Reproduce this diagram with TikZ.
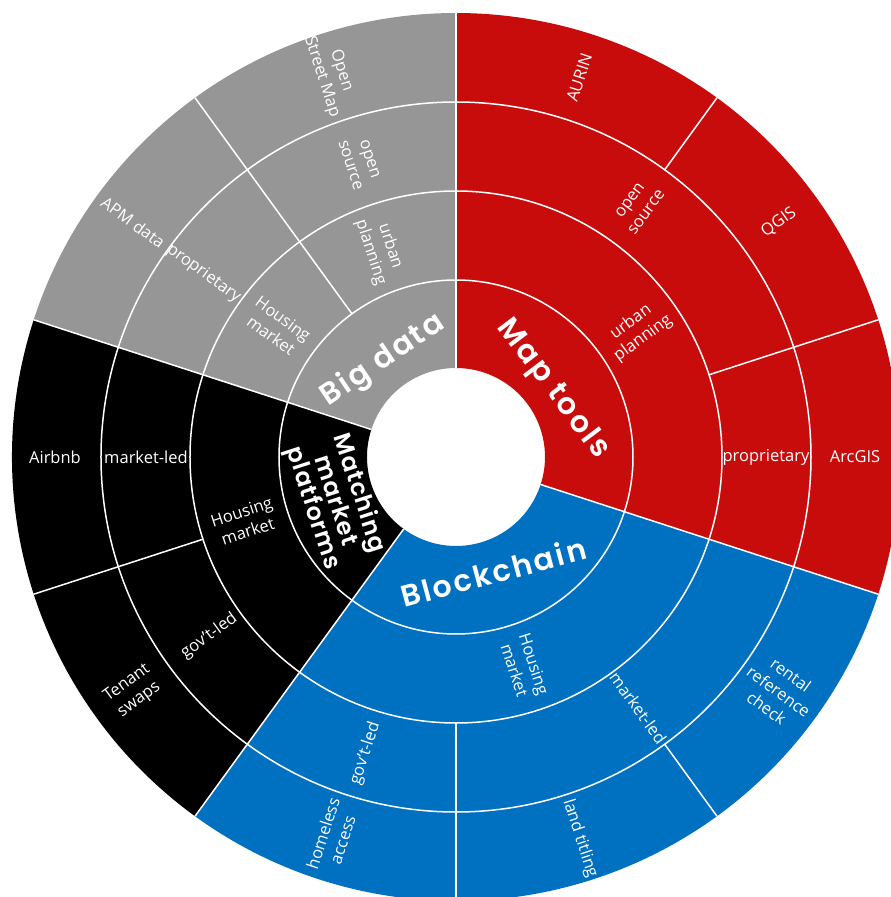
\documentclass[tikz,border=0pt]{standalone}
\usepackage{fontspec}
\setmainfont{Open Sans}
\newfontfamily\catfont{Poppins SemiBold}[LetterSpace=8]
\newfontfamily\catfontb{Poppins SemiBold}[LetterSpace=4]
\definecolor{mred}{RGB}{200,12,12}
\definecolor{mblue}{RGB}{0,112,192}
\definecolor{mgray}{RGB}{150,150,150}
\begin{document}
\begin{tikzpicture}[x=1pt,y=1pt,
  lab/.style={text=white,font=\fontsize{16.5}{20.5}\selectfont,align=center,inner sep=0pt},
  cat/.style={text=white,font=\catfont\fontsize{30}{30}\selectfont,align=center,inner sep=0pt},
  catsmall/.style={text=white,font=\catfontb\fontsize{24}{23.5}\selectfont,align=center,inner sep=0pt},
  sep/.style={draw=white,line width=1.5pt}]
\useasboundingbox (-456,-440) rectangle (435,457);
\clip (-456,-440) rectangle (435,457);
\newcommand\mysector[3]{\fill[#1] (#2:89) arc[start angle=#2,end angle=#3,radius=89] -- (#3:444) arc[start angle=#3,end angle=#2,radius=444] -- cycle;}
\mysector{mred}{90}{-18}
\mysector{mblue}{-18}{-126}
\mysector{black}{-126}{-198}
\mysector{mgray}{162}{90}
\foreach \r in {177,266,355} \draw[sep] (0,0) circle[radius=\r];
\foreach \a in {90,-18,-126,162} \draw[sep] (\a:89) -- (\a:444);
\draw[sep] (18:266) -- (18:444);
\draw[sep] (54:355) -- (54:444);
\draw[sep] (-90:266) -- (-90:444);
\draw[sep] (-54:355) -- (-54:444);
\draw[sep] (-162:266) -- (-162:444);
\draw[sep] (126:177) -- (126:444);
% category labels
\node[cat,rotate=-53] (cmap) at (35:118) {Map tools};
\node[cat,rotate=15] (cblock) at (-72:121) {Blockchain};
\node[catsmall,rotate=-72] (cmatch) at (-160:128) {Matching\\market\\platforms};
\node[cat,rotate=34] (cbig) at (127:121) {Big data};
% ring 2
\node[lab,rotate=36] (m2) at (35:221) {urban\\planning};
\node[lab,rotate=-72] (b2) at (-72:221) {Housing\\market};
\node[lab,rotate=18] (t2) at (-163:221) {Housing\\market};
\node[lab,rotate=-36] (g2a) at (144:221) {Housing\\market};
\node[lab,rotate=-72] (g2b) at (110:221) {urban\\planning};
% ring 3
\node[lab,rotate=54] (m3a) at (54:310) {open\\source};
\node[lab] (m3b) at (0:310) {proprietary};
\node[lab,rotate=-54] (b3a) at (-54:310) {market-led};
\node[lab,rotate=72] (b3b) at (-107:310) {gov't-led};
\node[lab,rotate=36] (t3a) at (-144:305) {gov't-led};
\node[lab] (t3b) at (180:310) {market-led};
\node[lab,rotate=-36] (g3a) at (144:312) {proprietary};
\node[lab,rotate=-72] (g3b) at (108:310) {open\\source};
% ring 4
\node[lab,rotate=72] (m4a) at (72:399) {AURIN};
\node[lab,rotate=36] (m4b) at (36:399) {QGIS};
\node[lab] (m4c) at (0:399) {ArcGIS};
\node[lab,rotate=-36] (b4a) at (-36:399) {rental\\reference\\check};
\node[lab,rotate=-72] (b4b) at (-72:401) {land titling};
\node[lab,rotate=72] (b4c) at (-108:399) {homeless\\access};
\node[lab,rotate=36] (t4a) at (-144:399) {Tenant\\swaps};
\node[lab] (t4b) at (180:401) {Airbnb};
\node[lab,rotate=-36] (g4a) at (144:399) {APM data};
\node[lab,rotate=-72] (g4b) at (108:403) {Open\\Street Map};
\end{tikzpicture}
\end{document}
